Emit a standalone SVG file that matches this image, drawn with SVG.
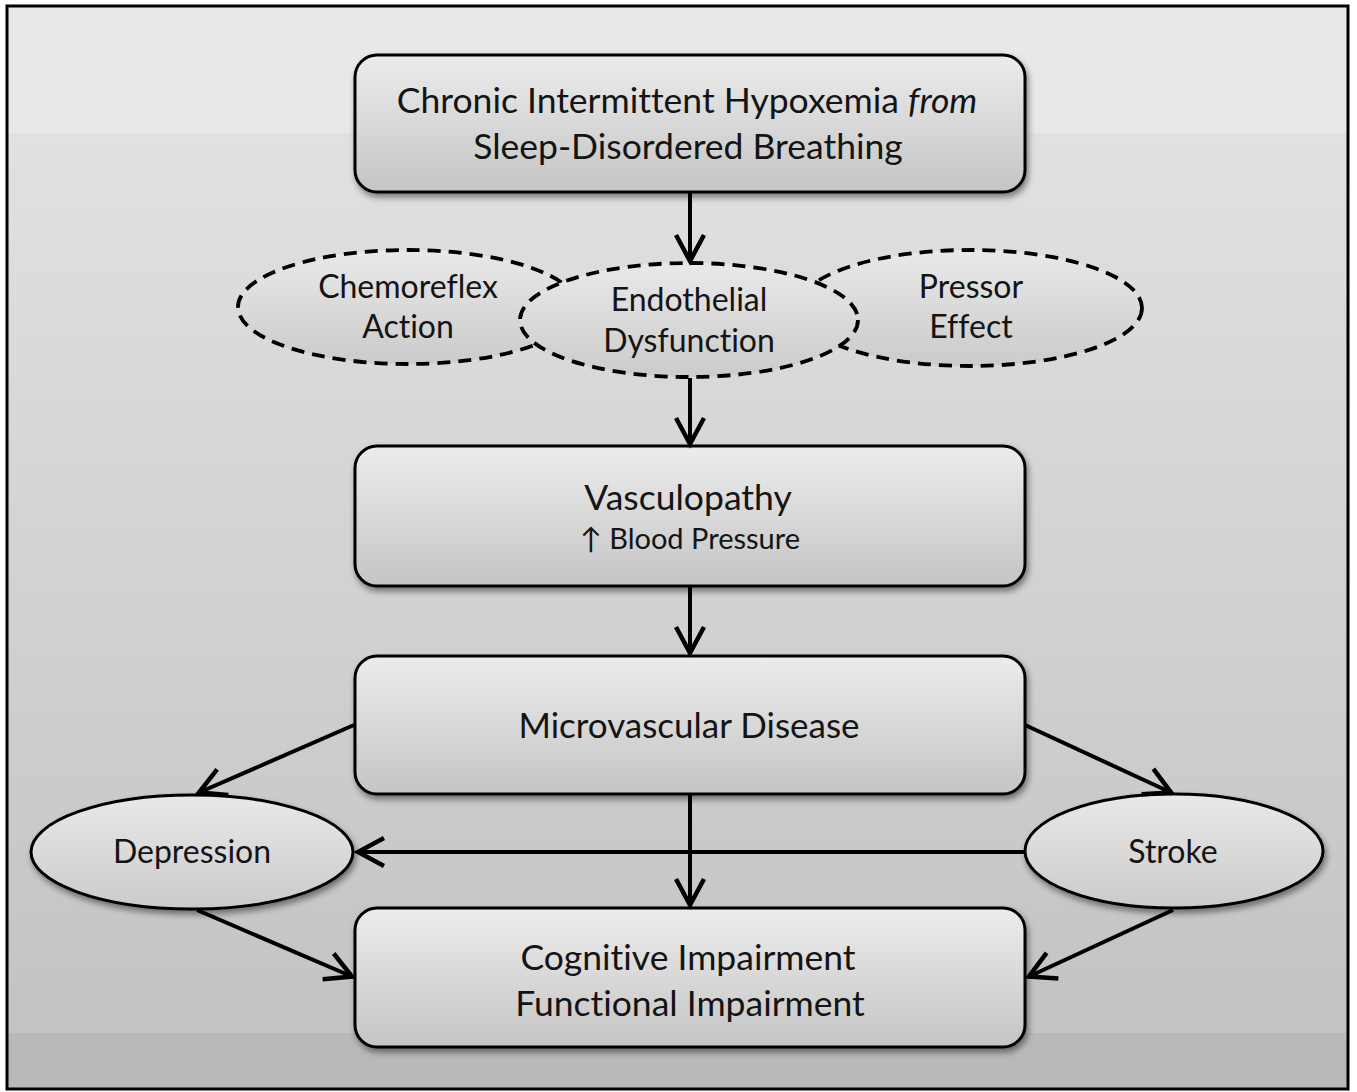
<svg xmlns="http://www.w3.org/2000/svg" width="1357" height="1092" viewBox="0 0 1357 1092">
<style>
.box{stroke:#000;stroke-width:3;fill:url(#boxg);filter:url(#sh)}
.ell{stroke:#000;stroke-width:3;fill:url(#ellg);filter:url(#sh)}
.dash{stroke:#000;stroke-width:3.8;stroke-dasharray:13 8;fill:url(#ellg)}
.t{font-family:Lato,"Open Sans","Liberation Sans",sans-serif;fill:#141414;text-anchor:middle;font-variant-ligatures:none}
.c{stroke:#000;stroke-width:4;fill:none;marker-end:url(#ah)}
</style>
<defs>
<linearGradient id="bg" gradientUnits="userSpaceOnUse" x1="0" y1="6" x2="0" y2="1089">
<stop offset="0" stop-color="#e8e8e8"/>
<stop offset="0.117" stop-color="#e8e8e8"/>
<stop offset="0.117" stop-color="#e1e1e1"/>
<stop offset="0.948" stop-color="#c3c3c3"/>
<stop offset="0.948" stop-color="#b9b9b9"/>
<stop offset="1" stop-color="#b9b9b9"/>
</linearGradient>
<linearGradient id="boxg" x1="0" y1="0" x2="0" y2="1">
<stop offset="0" stop-color="#ececec"/>
<stop offset="1" stop-color="#c5c5c5"/>
</linearGradient>
<linearGradient id="ellg" x1="0" y1="0" x2="0" y2="1">
<stop offset="0" stop-color="#e9e9e9"/>
<stop offset="1" stop-color="#cbcbcb"/>
</linearGradient>
<filter id="sh" x="-10%" y="-10%" width="120%" height="130%">
<feDropShadow dx="2" dy="4" stdDeviation="3" flood-color="#000" flood-opacity="0.45"/>
</filter>
<marker id="ah" markerUnits="userSpaceOnUse" viewBox="-32 -18 36 36" markerWidth="36" markerHeight="36" refX="0" refY="0" orient="auto">
<path d="M-27,-14 L-1,0 L-27,14" fill="none" stroke="#000" stroke-width="4.5"/>
</marker>
</defs>
<rect x="0" y="0" width="1357" height="1092" fill="#fff"/>
<rect x="7" y="6" width="1341" height="1083" fill="url(#bg)" stroke="#000" stroke-width="3"/>

<g id="node-hypoxemia">
<rect class="box" x="355" y="55" width="670" height="137" rx="22"/>
<text class="t" x="687" y="113" font-size="35.5">Chronic Intermittent Hypoxemia <tspan font-style="italic">from</tspan></text>
<text class="t" x="688" y="159" font-size="35.5">Sleep-Disordered Breathing</text>
</g>

<g id="node-chemoreflex">
<ellipse class="dash" cx="408" cy="307" rx="170" ry="57"/>
<text class="t" x="408" y="298" font-size="32">Chemoreflex</text>
<text class="t" x="408" y="338" font-size="32">Action</text>
</g>

<g id="node-pressor">
<ellipse class="dash" cx="970" cy="308" rx="172" ry="58"/>
<text class="t" x="971" y="298" font-size="32">Pressor</text>
<text class="t" x="971" y="338" font-size="32">Effect</text>
</g>

<g id="node-endothelial">
<ellipse class="dash" cx="689" cy="320" rx="169" ry="57"/>
<text class="t" x="689" y="311" font-size="32">Endothelial</text>
<text class="t" x="689" y="352" font-size="32">Dysfunction</text>
</g>

<g id="node-vasculopathy">
<rect class="box" x="355" y="446" width="670" height="140" rx="22"/>
<text class="t" x="688" y="510" font-size="35.5">Vasculopathy</text>
<text class="t" x="690" y="549" font-size="29">↑ Blood Pressure</text>
</g>

<g id="node-microvascular">
<rect class="box" x="355" y="656" width="670" height="138" rx="22"/>
<text class="t" x="689" y="738" font-size="35">Microvascular Disease</text>
</g>

<g id="node-depression">
<ellipse class="ell" cx="192" cy="852" rx="161" ry="57"/>
<text class="t" x="192" y="863" font-size="32">Depression</text>
</g>

<g id="node-stroke">
<ellipse class="ell" cx="1174" cy="851" rx="149" ry="57"/>
<text class="t" x="1173" y="863" font-size="32">Stroke</text>
</g>

<g id="node-cognitive">
<rect class="box" x="355" y="908" width="670" height="139" rx="22"/>
<text class="t" x="688" y="970" font-size="35.5">Cognitive Impairment</text>
<text class="t" x="690" y="1016" font-size="35.5">Functional Impairment</text>
</g>

<g id="connectors">
<line class="c" x1="690" y1="193" x2="690" y2="262"/>
<line class="c" x1="690" y1="378" x2="690" y2="445"/>
<line class="c" x1="690" y1="587" x2="690" y2="654"/>
<line class="c" x1="690" y1="795" x2="690" y2="906"/>
<line class="c" x1="354" y1="725" x2="198" y2="793"/>
<line class="c" x1="1025" y1="725" x2="1172" y2="793"/>
<line class="c" x1="1025" y1="852" x2="357" y2="852"/>
<line class="c" x1="197" y1="910" x2="353" y2="977"/>
<line class="c" x1="1173" y1="910" x2="1028" y2="977"/>
</g>
</svg>
